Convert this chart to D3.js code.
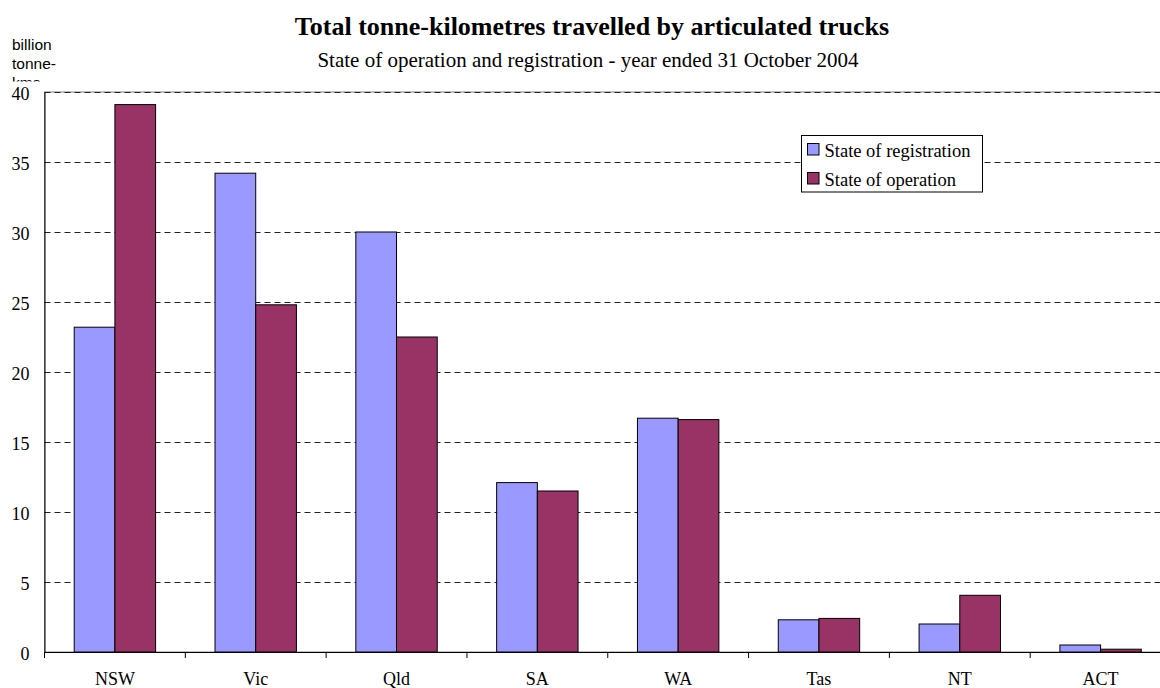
<!DOCTYPE html>
<html>
<head>
<meta charset="utf-8">
<script src="https://cdn.jsdelivr.net/npm/d3@7"></script>
<style>
  html, body { margin: 0; padding: 0; background: #fff; }
  svg { display: block; }
</style>
</head>
<body>
<svg id="chart" width="1160" height="688"></svg>
<script>
// Tonne-kilometres by state (billions)
const states = ["NSW", "Vic", "Qld", "SA", "WA", "Tas", "NT", "ACT"];
const registration = [23.2, 34.2, 30.0, 12.1, 16.7, 2.3, 2.0, 0.5];
const operation = [39.1, 24.8, 22.5, 11.5, 16.6, 2.4, 4.05, 0.2];
const seriesNames = ["State of registration", "State of operation"];
const seriesColors = ["#9999FF", "#993366"];
const yTicks = [0, 5, 10, 15, 20, 25, 30, 35, 40];

const svg = d3.select("#chart");
const serif = "'Liberation Serif', 'Times New Roman', serif";

const plotL = 44.5, plotR = 1171, plotT = 92, plotB = 652;

const x = d3.scaleBand().domain(states).range([plotL, plotR]).padding(0);
const inner = d3.scaleBand().domain([0, 1])
  .range([0, x.bandwidth()]).paddingOuter(0.73).paddingInner(0);
const y = d3.scaleLinear().domain([0, 40]).range([plotB, plotT]);

// plot frame
svg.append("rect")
  .attr("x", plotL).attr("y", plotT)
  .attr("width", plotR - plotL).attr("height", plotB - plotT)
  .attr("fill", "none").attr("stroke", "#808080").attr("stroke-width", 1);

// dashed gridlines
svg.append("g").selectAll("line")
  .data(yTicks.filter(d => d > 0))
  .join("line")
  .attr("x1", plotL).attr("x2", plotR)
  .attr("y1", d => Math.round(y(d)) + 0.5).attr("y2", d => Math.round(y(d)) + 0.5)
  .attr("stroke", "#222").attr("stroke-width", 1)
  .attr("stroke-dasharray", "6,4");

// bars
const data = states.map((s, i) => ({ state: s, values: [registration[i], operation[i]] }));
const groups = svg.append("g").selectAll("g")
  .data(data).join("g")
  .attr("transform", d => `translate(${x(d.state)},0)`);
groups.selectAll("rect")
  .data(d => d.values.map((v, k) => ({ v, k })))
  .join("rect")
  .attr("x", d => inner(d.k))
  .attr("width", inner.bandwidth())
  .attr("y", d => y(d.v))
  .attr("height", d => y(0) - y(d.v))
  .attr("fill", d => seriesColors[d.k])
  .attr("stroke", "#000").attr("stroke-width", 1);

// y axis
const yAxis = svg.append("g")
  .attr("transform", `translate(${plotL},0)`)
  .call(d3.axisLeft(y).tickValues(yTicks).tickSize(0).tickPadding(15));
yAxis.select(".domain").attr("stroke", "#000");
yAxis.selectAll("text")
  .attr("font-family", serif).attr("font-size", 18).attr("fill", "#000")
  .attr("dy", "0.4em");

// x axis with ticks at category boundaries
const xAxis = svg.append("g")
  .attr("transform", `translate(0,${plotB})`)
  .call(d3.axisBottom(x).tickSize(0).tickPadding(20).tickSizeOuter(0));
xAxis.select(".domain").attr("stroke", "#000");
xAxis.selectAll("text")
  .attr("font-family", serif).attr("font-size", 18).attr("fill", "#000");
svg.append("g").selectAll("line")
  .data(states.map(s => x(s)))
  .join("line")
  .attr("x1", d => d).attr("x2", d => d)
  .attr("y1", plotB).attr("y2", plotB + 6)
  .attr("stroke", "#000");

// titles
svg.append("text")
  .attr("x", 592).attr("y", 35).attr("text-anchor", "middle")
  .attr("font-family", serif).attr("font-size", 26).attr("font-weight", "bold")
  .text("Total tonne-kilometres travelled by articulated trucks");
svg.append("text")
  .attr("x", 588).attr("y", 66.5).attr("text-anchor", "middle")
  .attr("font-family", serif).attr("font-size", 21)
  .text("State of operation and registration - year ended 31 October 2004");

// unit label, clipped by the plot top
svg.append("clipPath").attr("id", "unitClip")
  .append("rect").attr("x", 0).attr("y", 0).attr("width", 100).attr("height", 81.5);
const unit = svg.append("text")
  .attr("clip-path", "url(#unitClip)")
  .attr("font-family", "'Liberation Sans', Arial, sans-serif").attr("font-size", 15.5);
["billion", "tonne-", "kms"].forEach((t, i) => {
  unit.append("tspan").attr("x", 12).attr("y", 49.5 + i * 19).text(t);
});

// legend
const legend = svg.append("g").attr("transform", "translate(801,135)");
legend.append("rect")
  .attr("x", 0.5).attr("y", 0.5).attr("width", 181).attr("height", 56.5)
  .attr("fill", "#fff").attr("stroke", "#000");
seriesNames.forEach((name, i) => {
  const top0 = 8 + i * 29;
  legend.append("rect")
    .attr("x", 6.5).attr("y", top0 + 0.5).attr("width", 11.5).attr("height", 11.5)
    .attr("fill", seriesColors[i]).attr("stroke", "#000");
  legend.append("text")
    .attr("x", 23.5).attr("y", top0 + 14.3)
    .attr("font-family", serif).attr("font-size", 18.5)
    .text(name);
});
</script>
</body>
</html>
